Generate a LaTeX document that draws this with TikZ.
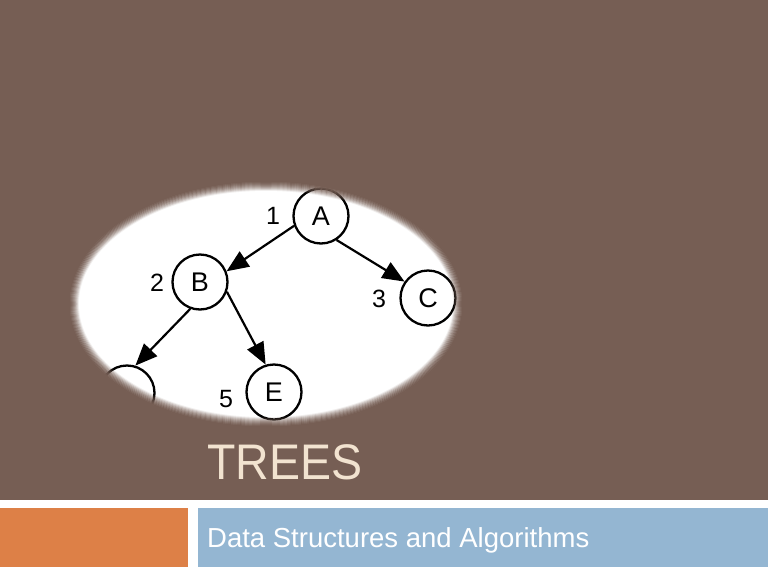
\documentclass[tikz,border=0pt]{standalone}
\usepackage{fontspec}
\setmainfont{Liberation Sans}
\usetikzlibrary{arrows.meta}
\definecolor{bgbrown}{RGB}{118,94,84}
\definecolor{barorange}{RGB}{221,128,71}
\definecolor{barblue}{RGB}{148,182,210}
\definecolor{titlecream}{RGB}{242,227,208}
\tikzset{
  treenode/.style={circle, draw=black, line width=2.3pt, minimum size=55pt, inner sep=0pt, font=\fontsize{27}{27}\selectfont},
  numlabel/.style={inner sep=0pt, font=\fontsize{25}{25}\selectfont},
  treeedge/.style={line width=2.2pt, -{Triangle[length=22pt, width=18pt]}},
}
\begin{document}
\begin{tikzpicture}[x=1pt, y=-1pt]
\useasboundingbox (0,0) rectangle (768,576);
\fill[white] (0,0) rectangle (768,576);
\fill[bgbrown] (0,0) rectangle (768,500);
\fill[barorange] (0,508) rectangle (188,567);
\fill[barblue] (198,508) rectangle (768,567);
\begin{scope}
  \clip (266,304) ellipse [x radius=198pt, y radius=124pt];
  \fill[white] (266,304) ellipse [x radius=198pt, y radius=124pt];
  \node[treenode] (A) at (321,216) {A};
  \node[treenode] (B) at (200,282) {B};
  \node[treenode] (C) at (428,298) {C};
  \node[treenode] (D) at (127,393) {};
  \node[treenode] (E) at (274,392) {E};
  \node[numlabel] (l1) at (273,216) {1};
  \node[numlabel] (l2) at (157,283) {2};
  \node[numlabel] (l3) at (379,299) {3};
  \node[numlabel] (l5) at (226,399) {5};
  \draw[treeedge] (A.200) -- (B.22);
  \draw[treeedge] (A.303) -- (C.145);
  \draw[treeedge] (B.250) -- (D.73);
  \draw[treeedge] (B.340) -- (E.107);
  \foreach \i [evaluate=\i as \op using (\i+1)/10,
               evaluate=\i as \rx using 188+\i,
               evaluate=\i as \ry using 114+\i] in {0,...,9}
    \draw[bgbrown, line width=1.6pt, opacity=\op] (266,304) ellipse [x radius=\rx pt, y radius=\ry pt];
\end{scope}
\draw[bgbrown, line width=2.5pt] (266,304) ellipse [x radius=198.5pt, y radius=124.5pt];
\node[anchor=base west, inner sep=0pt, text=titlecream, font=\fontsize{50}{50}\selectfont] (title) at (207,479) {\scalebox{0.93}[1]{TREES}};
\node[anchor=base west, inner sep=0pt, text=white, font=\fontsize{27.5}{27.5}\selectfont] (subtitle) at (207,547) {Data Structures and Algorithms};
\end{tikzpicture}
\end{document}
